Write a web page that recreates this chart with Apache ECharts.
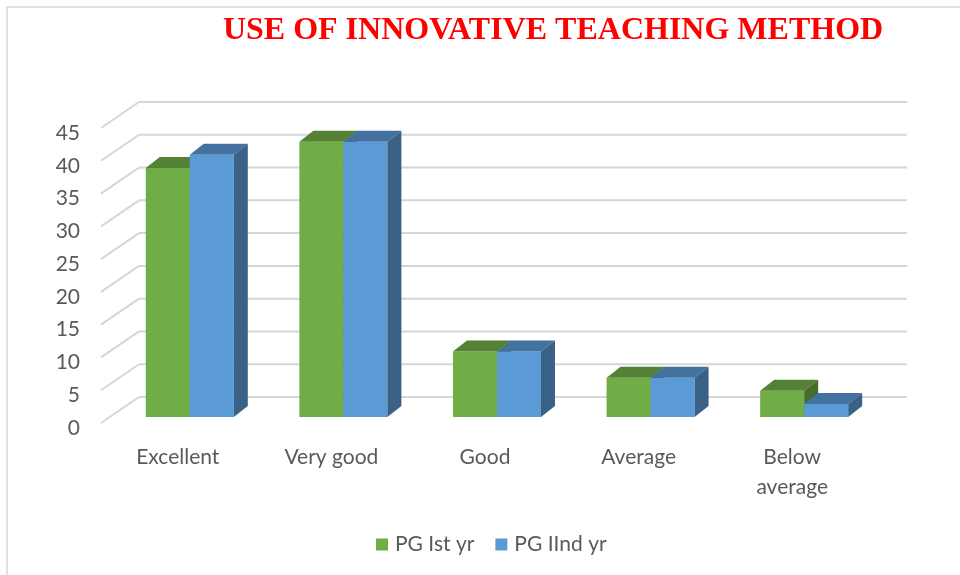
<!DOCTYPE html>
<html>
<head>
<meta charset="utf-8">
<script src="https://cdn.jsdelivr.net/npm/echarts@6/dist/echarts.min.js"></script>
<style>
  html, body { margin: 0; padding: 0; background: #fff; }
  #main { width: 960px; height: 575px; }
</style>
</head>
<body>
<div id="main"></div>
<script>
// data
var categories = ['Excellent', 'Very good', 'Good', 'Average', 'Below average'];
var pgFirst = [38, 42, 10, 6, 4];
var pgSecond = [40, 42, 10, 6, 2];
var yTicks = [0, 5, 10, 15, 20, 25, 30, 35, 40, 45];

var chart = echarts.init(document.getElementById('main'));

// depth of the fake 3d box (front floor -> back wall), and bar depth
var WALL_DX = 38, WALL_DY = -26;
var BAR_DX = 14, BAR_DY = -11;
var LABEL_FONT = 'Lato, "Noto Sans", sans-serif';

// back wall + side diagonals
function renderGrid(params, api) {
  var v = api.value(0);
  var left = api.coord([0, v]);
  var band = api.size([1, 0])[0];
  var x0 = left[0] - band / 2;
  var x1 = x0 + band * categories.length;
  var y = left[1];
  var st = { stroke: '#d6d6d6', lineWidth: 2 };
  return {
    type: 'group',
    children: [
      { type: 'line', shape: { x1: x0, y1: y, x2: x0 + WALL_DX, y2: y + WALL_DY }, style: st },
      { type: 'line', shape: { x1: x0 + WALL_DX, y1: y + WALL_DY, x2: x1 + WALL_DX, y2: y + WALL_DY }, style: st }
    ]
  };
}

function makeBar(which, front, top, side) {
  return function (params, api) {
    var c = api.value(0);
    var val = api.value(1);
    var band = api.size([1, 0])[0];
    var base = api.coord([c, 0]);
    var head = api.coord([c, val]);
    var w = band * 0.2865;
    var cx = base[0] + band * 0.078;
    var xl = which === 0 ? cx - w : cx;
    var xr = xl + w;
    var yb = base[1] - 6;
    var yt = head[1] - 6;
    return {
      type: 'group',
      children: [
        { type: 'polygon', shape: { points: [[xl, yb], [xr, yb], [xr, yt], [xl, yt]] }, style: { fill: front } },
        { type: 'polygon', shape: { points: [[xl, yt], [xl + BAR_DX, yt + BAR_DY], [xr + BAR_DX, yt + BAR_DY], [xr, yt]] }, style: { fill: top } },
        { type: 'polygon', shape: { points: [[xr, yt], [xr + BAR_DX, yt + BAR_DY], [xr + BAR_DX, yb + BAR_DY], [xr, yb]] }, style: { fill: side } }
      ]
    };
  };
}

var option = {
  backgroundColor: '#ffffff',
  animation: false,
  title: {
    text: 'USE OF INNOVATIVE TEACHING METHOD',
    left: 548,
    textAlign: 'center',
    top: 10,
    textStyle: {
      color: '#ff0000',
      fontFamily: '"Liberation Serif", "Times New Roman", serif',
      fontWeight: 'bold',
      fontSize: 32
    }
  },
  graphic: [
    { type: 'rect', shape: { x: 7, y: 7, width: 1000, height: 1000 }, style: { fill: 'none', stroke: '#d9d9d9', lineWidth: 1.5 }, silent: true }
  ],
  legend: {
    bottom: 15,
    left: 371,
    icon: 'rect',
    itemWidth: 12,
    itemHeight: 12,
    itemGap: 21,
    textStyle: { color: '#595959', fontSize: 21, fontFamily: LABEL_FONT, padding: [0, 0, 0, 2] },
    data: ['PG Ist yr', 'PG IInd yr']
  },
  grid: { left: 101, right: 91, top: 128, bottom: 152 },
  xAxis: {
    type: 'category',
    data: categories,
    axisLine: { show: false },
    axisTick: { show: false },
    splitLine: { show: false },
    axisLabel: {
      color: '#595959',
      fontSize: 21,
      fontFamily: LABEL_FONT,
      margin: 19,
      lineHeight: 30,
      formatter: function (v) { return v.length > 10 ? v.replace(' ', '\n') : v; }
    }
  },
  yAxis: {
    type: 'value',
    min: 0,
    max: 45,
    interval: 5,
    axisLine: { show: false },
    axisTick: { show: false },
    splitLine: { show: false },
    axisLabel: { color: '#595959', fontSize: 21, fontFamily: LABEL_FONT, margin: 21, verticalAlign: 'top', lineHeight: 10 }
  },
  series: [
    {
      type: 'custom',
      silent: true,
      z: 1,
      renderItem: renderGrid,
      data: yTicks.map(function (t) { return [t]; }),
      encode: { y: 0 }
    },
    {
      name: 'PG Ist yr',
      type: 'custom',
      z: 2,
      itemStyle: { color: '#70ad47' },
      renderItem: makeBar(0, '#70ad47', '#548235', '#466d2c'),
      data: pgFirst.map(function (v, i) { return [i, v]; }),
      encode: { x: 0, y: 1 }
    },
    {
      name: 'PG IInd yr',
      type: 'custom',
      z: 3,
      itemStyle: { color: '#5b9bd5' },
      renderItem: makeBar(1, '#5b9bd5', '#4372a0', '#3a6286'),
      data: pgSecond.map(function (v, i) { return [i, v]; }),
      encode: { x: 0, y: 1 }
    }
  ]
};

chart.setOption(option);
</script>
</body>
</html>
